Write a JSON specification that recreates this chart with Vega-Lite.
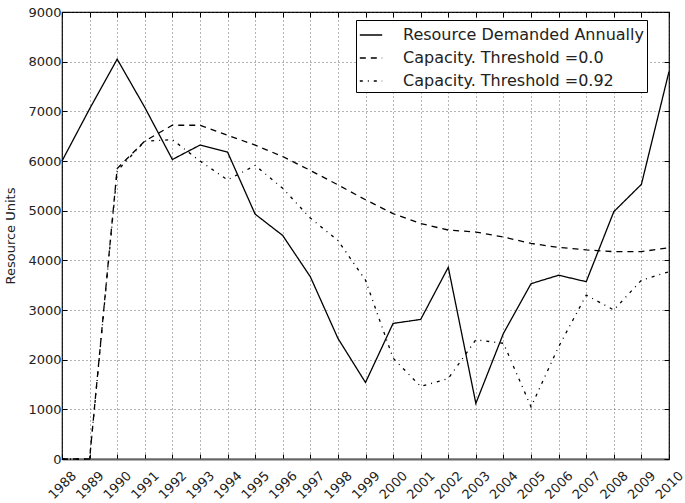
{
  "$schema": "https://vega.github.io/schema/vega-lite/v6.json",
  "width": 607,
  "height": 447,
  "autosize": {"type": "none"},
  "padding": {"left": 62, "top": 12, "right": 16, "bottom": 44},
  "background": "white",
  "config": {
    "font": "DejaVu Sans",
    "view": {"stroke": "black", "strokeWidth": 1.2},
    "axis": {
      "labelFont": "DejaVu Sans",
      "titleFont": "DejaVu Sans",
      "labelFontSize": 13,
      "labelColor": "#222",
      "titleColor": "#222",
      "grid": true,
      "gridColor": "#444",
      "gridDash": [1, 3],
      "gridWidth": 1,
      "gridOpacity": 0.8,
      "tickColor": "black",
      "tickWidth": 1,
      "tickSize": -5,
      "domain": false
    }
  },
  "data": {
    "values": [
      {"year": 1988, "series": "Resource Demanded Annually", "value": 6000},
      {"year": 1989, "series": "Resource Demanded Annually", "value": 7050},
      {"year": 1990, "series": "Resource Demanded Annually", "value": 8050},
      {"year": 1991, "series": "Resource Demanded Annually", "value": 7080},
      {"year": 1992, "series": "Resource Demanded Annually", "value": 6030},
      {"year": 1993, "series": "Resource Demanded Annually", "value": 6320},
      {"year": 1994, "series": "Resource Demanded Annually", "value": 6180},
      {"year": 1995, "series": "Resource Demanded Annually", "value": 4930},
      {"year": 1996, "series": "Resource Demanded Annually", "value": 4500},
      {"year": 1997, "series": "Resource Demanded Annually", "value": 3670},
      {"year": 1998, "series": "Resource Demanded Annually", "value": 2430},
      {"year": 1999, "series": "Resource Demanded Annually", "value": 1540},
      {"year": 2000, "series": "Resource Demanded Annually", "value": 2730},
      {"year": 2001, "series": "Resource Demanded Annually", "value": 2810},
      {"year": 2002, "series": "Resource Demanded Annually", "value": 3860},
      {"year": 2003, "series": "Resource Demanded Annually", "value": 1120},
      {"year": 2004, "series": "Resource Demanded Annually", "value": 2530},
      {"year": 2005, "series": "Resource Demanded Annually", "value": 3530},
      {"year": 2006, "series": "Resource Demanded Annually", "value": 3700},
      {"year": 2007, "series": "Resource Demanded Annually", "value": 3570},
      {"year": 2008, "series": "Resource Demanded Annually", "value": 4980},
      {"year": 2009, "series": "Resource Demanded Annually", "value": 5530},
      {"year": 2010, "series": "Resource Demanded Annually", "value": 7800},
      {"year": 1988, "series": "Capacity. Threshold =0.0", "value": 0},
      {"year": 1989, "series": "Capacity. Threshold =0.0", "value": 0},
      {"year": 1990, "series": "Capacity. Threshold =0.0", "value": 5850},
      {"year": 1991, "series": "Capacity. Threshold =0.0", "value": 6400},
      {"year": 1992, "series": "Capacity. Threshold =0.0", "value": 6720},
      {"year": 1993, "series": "Capacity. Threshold =0.0", "value": 6720},
      {"year": 1994, "series": "Capacity. Threshold =0.0", "value": 6520},
      {"year": 1995, "series": "Capacity. Threshold =0.0", "value": 6320},
      {"year": 1996, "series": "Capacity. Threshold =0.0", "value": 6090},
      {"year": 1997, "series": "Capacity. Threshold =0.0", "value": 5810},
      {"year": 1998, "series": "Capacity. Threshold =0.0", "value": 5520},
      {"year": 1999, "series": "Capacity. Threshold =0.0", "value": 5220},
      {"year": 2000, "series": "Capacity. Threshold =0.0", "value": 4940},
      {"year": 2001, "series": "Capacity. Threshold =0.0", "value": 4740},
      {"year": 2002, "series": "Capacity. Threshold =0.0", "value": 4610},
      {"year": 2003, "series": "Capacity. Threshold =0.0", "value": 4570},
      {"year": 2004, "series": "Capacity. Threshold =0.0", "value": 4470},
      {"year": 2005, "series": "Capacity. Threshold =0.0", "value": 4340},
      {"year": 2006, "series": "Capacity. Threshold =0.0", "value": 4260},
      {"year": 2007, "series": "Capacity. Threshold =0.0", "value": 4210},
      {"year": 2008, "series": "Capacity. Threshold =0.0", "value": 4175},
      {"year": 2009, "series": "Capacity. Threshold =0.0", "value": 4175},
      {"year": 2010, "series": "Capacity. Threshold =0.0", "value": 4255},
      {"year": 1988, "series": "Capacity. Threshold =0.92", "value": 0},
      {"year": 1989, "series": "Capacity. Threshold =0.92", "value": 0},
      {"year": 1990, "series": "Capacity. Threshold =0.92", "value": 5800},
      {"year": 1991, "series": "Capacity. Threshold =0.92", "value": 6400},
      {"year": 1992, "series": "Capacity. Threshold =0.92", "value": 6430},
      {"year": 1993, "series": "Capacity. Threshold =0.92", "value": 6000},
      {"year": 1994, "series": "Capacity. Threshold =0.92", "value": 5620},
      {"year": 1995, "series": "Capacity. Threshold =0.92", "value": 5910},
      {"year": 1996, "series": "Capacity. Threshold =0.92", "value": 5450},
      {"year": 1997, "series": "Capacity. Threshold =0.92", "value": 4850},
      {"year": 1998, "series": "Capacity. Threshold =0.92", "value": 4400},
      {"year": 1999, "series": "Capacity. Threshold =0.92", "value": 3600},
      {"year": 2000, "series": "Capacity. Threshold =0.92", "value": 2030},
      {"year": 2001, "series": "Capacity. Threshold =0.92", "value": 1460},
      {"year": 2002, "series": "Capacity. Threshold =0.92", "value": 1620},
      {"year": 2003, "series": "Capacity. Threshold =0.92", "value": 2400},
      {"year": 2004, "series": "Capacity. Threshold =0.92", "value": 2330},
      {"year": 2005, "series": "Capacity. Threshold =0.92", "value": 1050},
      {"year": 2006, "series": "Capacity. Threshold =0.92", "value": 2260},
      {"year": 2007, "series": "Capacity. Threshold =0.92", "value": 3300},
      {"year": 2008, "series": "Capacity. Threshold =0.92", "value": 3000},
      {"year": 2009, "series": "Capacity. Threshold =0.92", "value": 3600},
      {"year": 2010, "series": "Capacity. Threshold =0.92", "value": 3770}
    ]
  },
  "resolve": {"axis": {"x": "independent", "y": "independent"}},
  "layer": [
    {
      "mark": {"type": "line", "color": "black", "strokeWidth": 1.3},
      "encoding": {
        "x": {
          "field": "year", "type": "quantitative",
          "scale": {"domain": [1988, 2010], "nice": false, "zero": false},
          "axis": {
            "title": null,
            "values": [1988,1989,1990,1991,1992,1993,1994,1995,1996,1997,1998,1999,2000,2001,2002,2003,2004,2005,2006,2007,2008,2009,2010],
            "format": "d",
            "labelAngle": -45,
            "labelAlign": "center",
            "labelBaseline": "middle",
            "labelPadding": 31,
            "labelOverlap": false,
            "labelFlush": false,
            "domain": true,
            "domainColor": "#666",
            "domainWidth": 2
          }
        },
        "y": {
          "field": "value", "type": "quantitative",
          "scale": {"domain": [0, 9000], "nice": false},
          "axis": {
            "title": "Resource Units",
            "titleFontSize": 13,
            "titleFontWeight": "normal",
            "titlePadding": 10,
            "values": [0,1000,2000,3000,4000,5000,6000,7000,8000,9000],
            "format": "d",
            "labelPadding": 6,
            "labelFlush": false
          }
        },
        "strokeDash": {
          "field": "series", "type": "nominal",
          "scale": {
            "domain": ["Resource Demanded Annually", "Capacity. Threshold =0.0", "Capacity. Threshold =0.92"],
            "range": [[1, 0], [6, 5], [3, 5, 1, 5]]
          },
          "legend": {
            "title": null,
            "orient": "none",
            "legendX": 294,
            "legendY": 8,
            "symbolType": "stroke",
            "symbolStrokeColor": "black",
            "symbolStrokeWidth": 1.3,
            "symbolSize": 500,
            "labelFontSize": 16,
            "labelFont": "DejaVu Sans",
            "labelColor": "#222",
            "labelLimit": 400,
            "labelOffset": 20,
            "rowPadding": 3,
            "padding": 3,
            "strokeColor": "black",
            "fillColor": "white",
            "cornerRadius": 0
          }
        }
      }
    },
    {
      "mark": {"type": "line", "opacity": 0},
      "encoding": {
        "x": {
          "field": "year", "type": "quantitative",
          "axis": {
            "orient": "top",
            "title": null,
            "labels": false,
            "grid": false,
            "values": [1988,1989,1990,1991,1992,1993,1994,1995,1996,1997,1998,1999,2000,2001,2002,2003,2004,2005,2006,2007,2008,2009,2010]
          }
        },
        "y": {
          "field": "value", "type": "quantitative",
          "axis": {
            "orient": "right",
            "title": null,
            "labels": false,
            "grid": false,
            "values": [0,1000,2000,3000,4000,5000,6000,7000,8000,9000]
          }
        },
        "detail": {"field": "series", "type": "nominal"}
      }
    }
  ]
}
